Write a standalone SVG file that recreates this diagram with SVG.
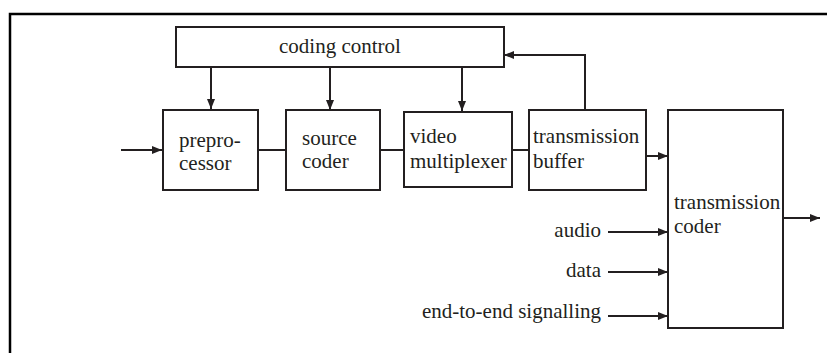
<svg xmlns="http://www.w3.org/2000/svg" width="827" height="353" viewBox="0 0 827 353">
  <defs>
    <style>
      .box { fill: #ffffff; stroke: #231f20; stroke-width: 2; }
      .wire { fill: none; stroke: #231f20; stroke-width: 2; }
      text { font-size: 21px; fill: #231f20; }
    </style>
    <marker id="arrow" viewBox="0 0 10 8" refX="10" refY="4" markerWidth="10" markerHeight="8" markerUnits="userSpaceOnUse" orient="auto">
      <path d="M0,0 L10,4 L0,8 Z" fill="#231f20"/>
    </marker>
  </defs>

  <rect width="827" height="353" fill="#ffffff"/>
  <!-- outer frame -->
  <path d="M10,353 V14 H827" fill="none" stroke="#000000" stroke-width="2.5"/>

  <g id="connectors">
    <!-- control lines -->
    <line class="wire" x1="211" y1="67" x2="211" y2="109" marker-end="url(#arrow)"/>
    <line class="wire" x1="330" y1="67" x2="330" y2="110" marker-end="url(#arrow)"/>
    <line class="wire" x1="462" y1="67" x2="462" y2="111" marker-end="url(#arrow)"/>
    <!-- buffer feedback -->
    <path class="wire" d="M585,110 V55 H504" marker-end="url(#arrow)"/>
    <!-- main chain -->
    <line class="wire" x1="121" y1="150" x2="162" y2="150" marker-end="url(#arrow)"/>
    <line class="wire" x1="258" y1="150" x2="286" y2="150"/>
    <line class="wire" x1="380" y1="150" x2="404" y2="150"/>
    <line class="wire" x1="512" y1="150" x2="529" y2="150"/>
    <line class="wire" x1="646" y1="156" x2="668" y2="156" marker-end="url(#arrow)"/>
    <!-- side inputs -->
    <line class="wire" x1="608" y1="232" x2="668" y2="232" marker-end="url(#arrow)"/>
    <line class="wire" x1="608" y1="272" x2="668" y2="272" marker-end="url(#arrow)"/>
    <line class="wire" x1="608" y1="316" x2="668" y2="316" marker-end="url(#arrow)"/>
    <!-- output -->
    <line class="wire" x1="783" y1="218" x2="820" y2="218" marker-end="url(#arrow)"/>
  </g>

  <g font-family="'Liberation Serif', 'DejaVu Serif', serif">
    <g id="coding-control">
      <rect class="box" x="176" y="27" width="328" height="40"/>
      <text x="340" y="53" text-anchor="middle">coding control</text>
    </g>

    <g id="preprocessor">
      <rect class="box" x="163" y="110" width="95" height="80"/>
      <text x="179" y="147">prepro-</text>
      <text x="179" y="170">cessor</text>
    </g>

    <g id="source-coder">
      <rect class="box" x="286" y="110" width="94" height="80"/>
      <text x="302" y="145">source</text>
      <text x="302" y="168">coder</text>
    </g>

    <g id="video-multiplexer">
      <rect class="box" x="404" y="112" width="108" height="75"/>
      <text x="410" y="143">video</text>
      <text x="410" y="168">multiplexer</text>
    </g>

    <g id="transmission-buffer">
      <rect class="box" x="529" y="110" width="117" height="80"/>
      <text x="533" y="143">transmission</text>
      <text x="533" y="168">buffer</text>
    </g>

    <g id="transmission-coder">
      <rect class="box" x="668" y="110" width="115" height="218"/>
      <text x="674" y="209">transmission</text>
      <text x="674" y="233">coder</text>
    </g>

    <g id="inputs">
      <text x="601" y="237" text-anchor="end">audio</text>
      <text x="601" y="277" text-anchor="end">data</text>
      <text x="601" y="318" text-anchor="end">end-to-end signalling</text>
    </g>
  </g>
</svg>
